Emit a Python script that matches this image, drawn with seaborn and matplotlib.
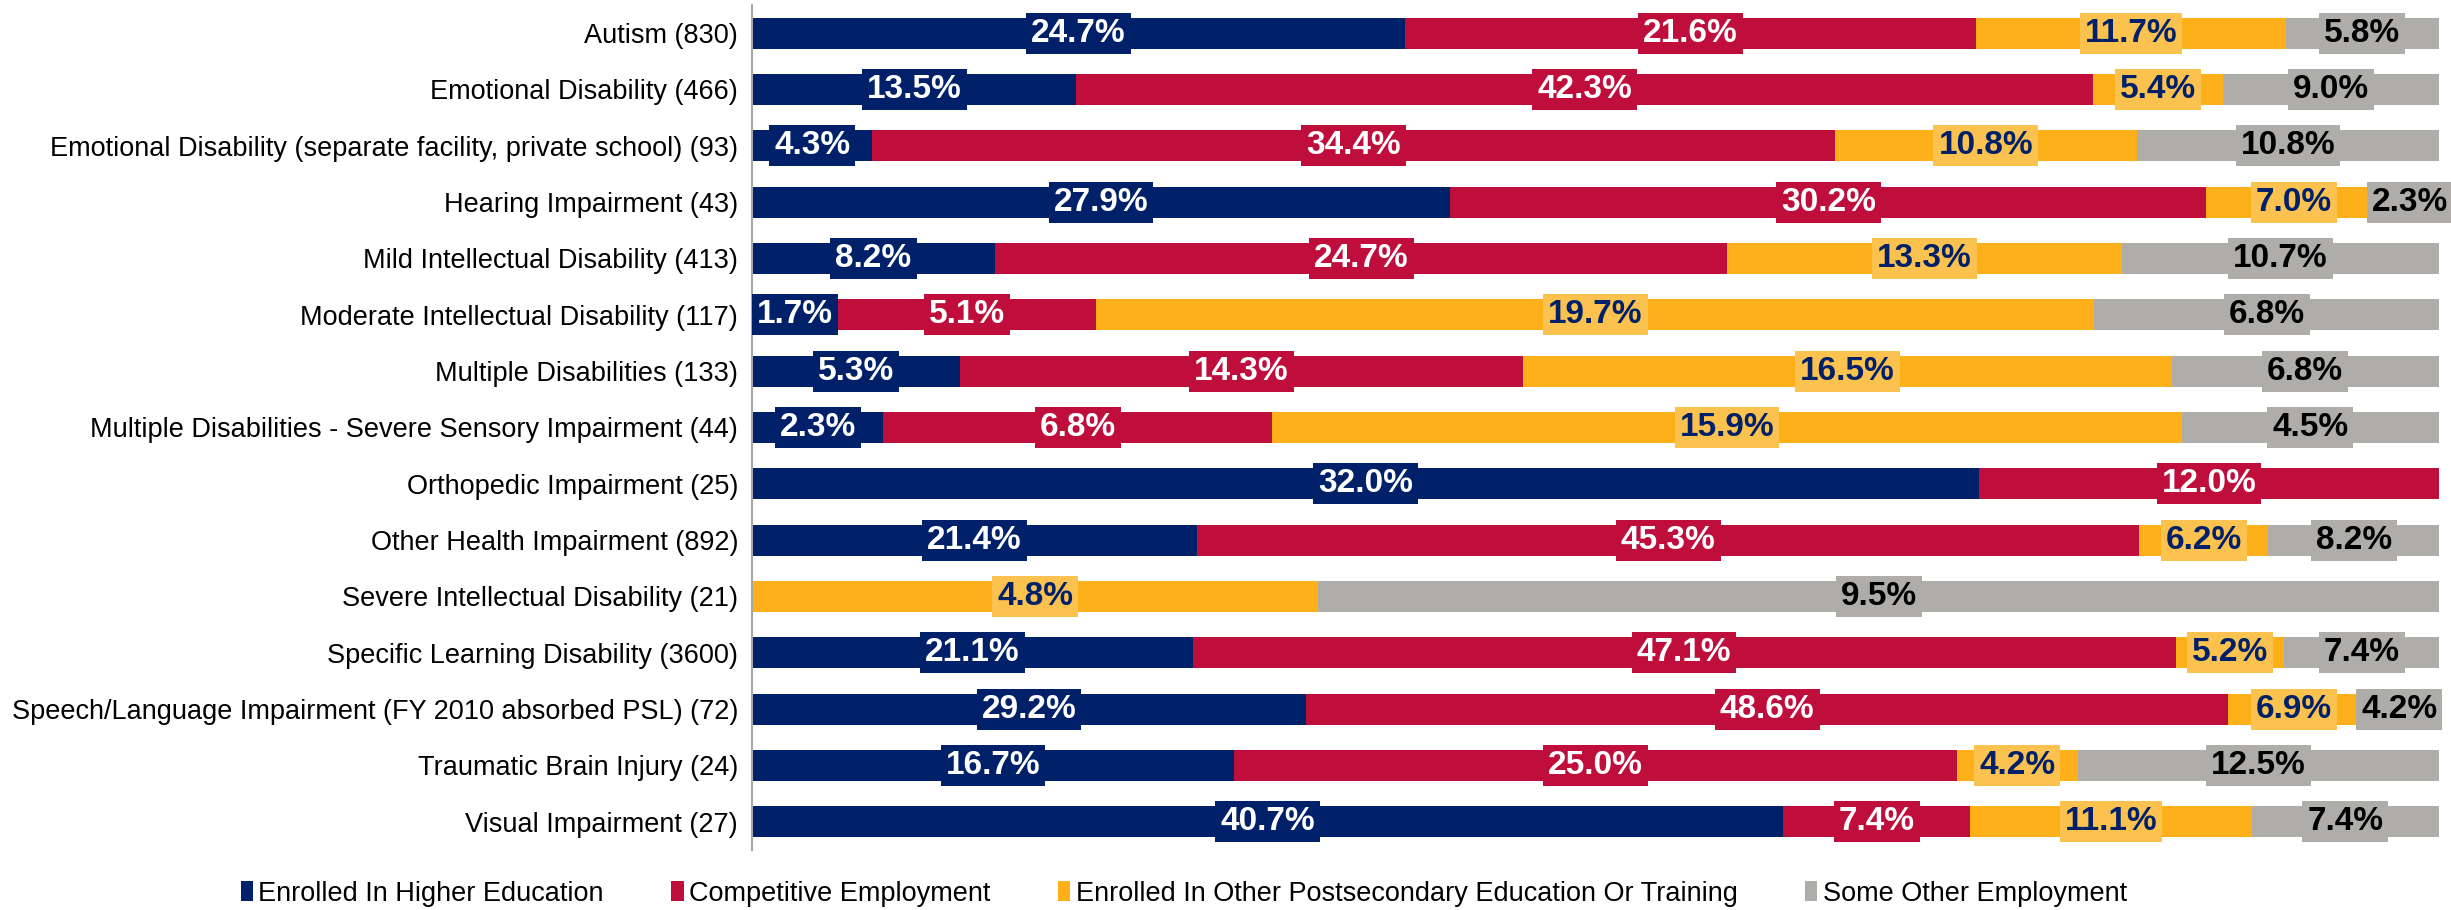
import pandas as pd
import numpy as np
import matplotlib.pyplot as plt
import seaborn as sns

categories = [
    "Autism (830)",
    "Emotional Disability (466)",
    "Emotional Disability (separate facility, private school) (93)",
    "Hearing Impairment (43)",
    "Mild Intellectual Disability (413)",
    "Moderate Intellectual Disability (117)",
    "Multiple Disabilities (133)",
    "Multiple Disabilities - Severe Sensory Impairment (44)",
    "Orthopedic Impairment (25)",
    "Other Health Impairment (892)",
    "Severe Intellectual Disability (21)",
    "Specific Learning Disability (3600)",
    "Speech/Language Impairment (FY 2010 absorbed PSL) (72)",
    "Traumatic Brain Injury (24)",
    "Visual Impairment (27)",
]

series = [
    "Enrolled In Higher Education",
    "Competitive Employment",
    "Enrolled In Other Postsecondary Education Or Training",
    "Some Other Employment",
]

higher_ed = [24.7, 13.5, 4.3, 27.9, 8.2, 1.7, 5.3, 2.3, 32.0, 21.4, 0.0, 21.1, 29.2, 16.7, 40.7]
competitive = [21.6, 42.3, 34.4, 30.2, 24.7, 5.1, 14.3, 6.8, 12.0, 45.3, 0.0, 47.1, 48.6, 25.0, 7.4]
other_post = [11.7, 5.4, 10.8, 7.0, 13.3, 19.7, 16.5, 15.9, 0.0, 6.2, 4.8, 5.2, 6.9, 4.2, 11.1]
other_emp = [5.8, 9.0, 10.8, 2.3, 10.7, 6.8, 6.8, 4.5, 0.0, 8.2, 9.5, 7.4, 4.2, 12.5, 7.4]

bar_colors = ["#002169", "#C00E3C", "#FDB01A", "#AEADAA"]
box_colors = ["#002169", "#C00E3C", "#FCC24F", "#AEADAA"]
text_colors = ["white", "white", "#002169", "black"]

plt.rcParams['font.family'] = ['Liberation Sans', 'DejaVu Sans']

vals = np.array([higher_ed, competitive, other_post, other_emp])
shares = vals / vals.sum(axis=0) * 100
cums = np.cumsum(shares, axis=0)

fig = plt.figure(figsize=(24.51, 9.10), dpi=100)
ax = fig.add_axes([0.3068, 0.066, 0.9951 - 0.3068, 0.9945 - 0.066])

# draw cumulative bars from the back so each layer covers the next
for i in range(3, -1, -1):
    df = pd.DataFrame({"cat": categories, "cum": cums[i]})
    sns.barplot(data=df, x="cum", y="cat", color=bar_colors[i], saturation=1,
                width=0.55, linewidth=0, orient="h", ax=ax)

for i in range(4):
    left = cums[i] - shares[i]
    for j in range(len(categories)):
        if vals[i, j] == 0:
            continue
        ax.text(left[j] + shares[i, j] / 2, j, f"{vals[i, j]:.1f}%",
                ha="center", va="center", fontsize=24, fontweight="bold",
                color=text_colors[i], clip_on=False,
                bbox=dict(boxstyle="square,pad=0.15", fc=box_colors[i], ec="none"))

ax.set_xlim(0, 100)
ax.set_ylim(14.5, -0.5)
ax.set_xlabel("")
ax.set_ylabel("")
ax.set_xticks([])
ax.tick_params(axis="y", length=0, labelsize=19.5, pad=10)
for s in ["top", "right", "bottom"]:
    ax.spines[s].set_visible(False)
ax.spines["left"].set_color("#A6A6A6")
ax.spines["left"].set_linewidth(1.5)

handles = [plt.Rectangle((0, 0), 1, 1, fc=c, ec="none") for c in bar_colors]
fig.legend(handles, series, loc="center", bbox_to_anchor=(0.483, 0.018), ncol=4,
           frameon=False, fontsize=19.5, handlelength=0.45, handleheight=0.75,
           handletextpad=0.2, columnspacing=2.5)

fig.savefig("out.png", dpi=100)
